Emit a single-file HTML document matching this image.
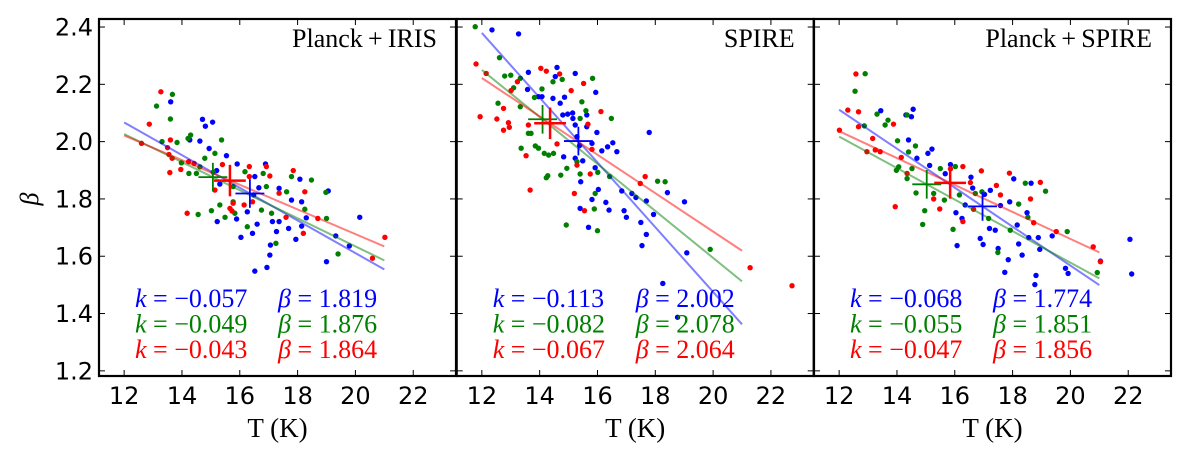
<!DOCTYPE html>
<html><head><meta charset="utf-8">
<style>
html,body{margin:0;padding:0;background:#fff;}
svg{display:block;}
.tick{font-family:"DejaVu Sans","Liberation Sans",sans-serif;font-size:24px;fill:#000;}
.serif{font-family:"Liberation Serif",serif;font-size:26px;}
.xlab{font-family:"Liberation Serif",serif;font-size:27px;}
</style></head>
<body>
<svg id="chart" width="1200" height="455" viewBox="0 0 1200 455" xmlns="http://www.w3.org/2000/svg"></svg>
<script>
const panelTitles = ["Planck\u2009+\u2009IRIS", "SPIRE", "Planck\u2009+\u2009SPIRE"];
const seriesColors = ["#0000ff", "#008000", "#ff0000"];
const seriesNames = ["blue", "green", "red"];
const xTicks = [12, 14, 16, 18, 20, 22];
const yTicks = [1.2, 1.4, 1.6, 1.8, 2.0, 2.2, 2.4];
const slopeK = [[-0.057, -0.049, -0.043], [-0.113, -0.082, -0.067], [-0.068, -0.055, -0.047]];
const meanBeta = [[1.819, 1.876, 1.864], [2.002, 2.078, 2.064], [1.774, 1.851, 1.856]];
const meanT = [[16.35, 15.07, 15.66], [15.34, 14.1, 14.36], [16.96, 15.03, 15.84]];
const fitRange = [12, 21];

const p1Blue = [[13.61,2.139],[14.71,2.078],[14.81,2.054],[15.06,2.068],[14.62,2.002],[14.94,1.976],[14.27,2.006],[15.54,1.951],[15.2,1.899],[15.91,1.922],[15.31,1.852],[15.22,1.721],[15.89,1.73],[16.04,1.666],[16.26,1.755],[16.44,1.68],[16.52,1.878],[16.66,1.839],[16.52,1.548],[16.6,1.712],[16.89,1.922],[16.94,1.561],[17.06,1.639],[17.04,1.604],[17.13,1.721],[17.27,1.686],[17.36,1.837],[17.36,1.721],[17.69,1.697],[17.79,1.796],[17.94,1.659],[18.08,1.869],[18.14,1.79],[18.14,1.705],[18.3,1.734],[19.06,1.828],[19.0,1.581],[19.32,1.671],[19.79,1.636],[20.15,1.736],[16.48,1.814]];
const p1Green = [[13.12,2.124],[13.67,2.165],[13.6,2.079],[13.31,2.0],[13.83,1.997],[14.21,2.011],[14.3,2.023],[13.98,1.926],[14.24,1.889],[14.5,1.889],[14.62,1.912],[14.79,1.942],[15.14,1.959],[15.37,2.006],[15.08,1.893],[14.56,1.746],[15.02,1.759],[15.31,1.779],[15.49,1.736],[15.77,1.79],[15.83,1.75],[16.18,1.895],[16.26,1.703],[16.75,1.761],[16.81,1.889],[16.92,1.843],[17.1,1.75],[17.25,1.645],[17.62,1.825],[17.79,1.878],[18.48,1.866],[18.25,1.764],[18.98,1.823],[19.0,1.732],[19.4,1.608],[15.77,1.843]];
const p1Red = [[13.27,2.174],[12.87,2.061],[12.6,1.994],[13.6,2.006],[13.5,1.979],[13.55,1.955],[13.66,1.942],[13.58,1.892],[13.96,1.903],[14.23,1.93],[14.42,1.924],[14.18,1.75],[15.4,1.92],[15.14,1.831],[15.66,1.767],[15.73,1.758],[16.15,1.779],[16.33,1.913],[16.33,1.878],[16.44,1.79],[16.92,1.913],[17.04,1.88],[17.36,1.82],[17.85,1.899],[17.6,1.736],[18.25,1.825],[18.2,1.68],[18.7,1.732],[20.59,1.593],[21.02,1.666],[15.77,1.785]];
const p2Blue = [[12.35,2.39],[13.27,2.376],[13.61,2.242],[13.58,2.182],[13.96,2.157],[14.08,2.157],[14.46,2.151],[14.6,2.259],[14.54,2.227],[14.86,2.155],[14.71,2.134],[14.8,2.093],[14.97,2.096],[15.23,2.238],[15.14,2.1],[15.15,2.081],[15.23,2.058],[15.29,2.017],[15.38,1.986],[15.63,2.093],[15.63,2.052],[15.94,2.172],[15.98,2.032],[15.81,1.994],[16.15,1.968],[16.35,1.982],[16.53,1.996],[16.67,1.965],[14.83,1.947],[15.23,1.942],[15.49,1.933],[15.42,1.86],[15.92,1.909],[16.03,1.833],[15.81,1.798],[15.4,1.767],[15.69,1.701],[16.29,1.788],[16.4,1.761],[16.84,1.828],[16.92,1.759],[17.0,1.736],[17.19,1.819],[17.33,1.805],[17.5,1.718],[17.54,1.637],[17.69,1.676],[17.69,1.793],[17.79,2.032],[17.94,1.746],[18.42,1.822],[18.26,1.505],[19.01,1.79],[19.09,1.612],[18.77,1.387]];
const p2Green = [[11.77,2.401],[12.61,2.293],[12.56,2.134],[12.79,2.229],[13.0,2.232],[13.1,2.188],[13.33,2.221],[13.33,2.122],[13.36,1.977],[13.61,2.029],[13.7,2.029],[13.82,2.154],[13.85,1.985],[13.96,1.977],[14.08,2.184],[14.16,1.959],[14.31,1.953],[14.48,1.959],[14.23,1.874],[14.28,1.881],[14.46,2.209],[14.78,2.217],[14.73,1.883],[14.92,1.709],[14.94,1.907],[15.29,1.93],[15.4,1.887],[15.46,2.139],[15.4,2.081],[15.6,2.108],[15.83,2.221],[15.89,1.765],[15.92,1.819],[16.0,1.689],[16.01,1.893],[16.48,2.081],[16.42,1.878],[18.08,1.862],[18.34,1.86],[19.9,1.624]];
const p2Red = [[11.8,2.271],[11.94,2.087],[12.15,2.238],[12.52,2.079],[12.75,2.116],[12.75,2.04],[12.92,2.066],[12.95,2.05],[13.01,2.178],[13.23,2.209],[13.53,1.951],[13.61,2.058],[13.67,1.831],[14.04,2.256],[14.23,2.246],[14.69,2.236],[15.09,2.178],[15.52,2.203],[14.6,1.992],[15.29,1.918],[15.2,1.819],[15.55,1.759],[15.67,2.061],[15.75,1.887],[15.81,1.973],[16.12,2.105],[17.48,1.854],[17.65,1.878],[21.28,1.56],[22.73,1.497]];
const p3Blue = [[13.44,2.108],[14.31,2.093],[14.5,2.087],[14.56,2.113],[14.4,2.006],[14.69,1.942],[15.07,1.959],[15.21,1.974],[15.13,1.917],[15.67,1.888],[15.85,1.92],[16.04,1.752],[16.08,1.637],[16.25,1.732],[16.36,1.779],[16.56,1.876],[16.62,1.838],[16.88,1.662],[16.98,1.641],[17.03,1.816],[17.23,1.83],[17.2,1.697],[17.4,1.691],[17.5,1.627],[17.58,1.777],[17.73,1.544],[17.85,1.588],[17.9,1.79],[18.04,1.87],[18.16,1.709],[18.21,1.643],[18.33,1.604],[18.5,1.752],[18.56,1.665],[18.64,1.855],[18.81,1.533],[18.77,1.501],[18.89,1.665],[18.94,1.624],[19.37,1.671],[19.83,1.558],[19.92,1.54],[22.06,1.659],[22.12,1.538],[21.04,1.583]];
const p3Green = [[12.55,2.176],[12.9,2.237],[12.87,2.055],[13.31,2.096],[13.59,2.058],[13.69,2.075],[14.02,2.003],[13.98,1.9],[14.06,1.912],[14.35,2.093],[14.35,1.871],[14.52,1.906],[14.64,1.985],[14.4,1.964],[14.66,1.821],[14.89,1.711],[14.96,1.759],[15.27,1.819],[15.5,1.906],[15.64,1.796],[16.02,1.913],[15.94,1.694],[16.16,1.814],[16.71,1.819],[16.94,1.825],[17.17,1.732],[17.49,1.613],[17.92,1.691],[18.21,1.782],[18.44,1.855],[18.53,1.736],[19.14,1.827],[19.89,1.686],[20.93,1.543]];
const p3Red = [[12.01,2.04],[12.3,2.11],[12.58,2.236],[12.67,2.104],[12.67,2.052],[12.96,1.965],[13.16,2.011],[13.25,1.971],[13.42,1.965],[13.88,2.061],[13.94,1.773],[14.15,1.945],[14.35,1.889],[15.27,1.8],[15.48,1.765],[15.85,1.905],[16.28,1.913],[16.28,1.721],[16.54,1.857],[16.65,1.764],[16.92,1.898],[17.44,1.847],[17.58,1.814],[17.89,1.89],[18.62,1.8],[18.73,1.717],[18.96,1.858],[19.51,1.686],[20.79,1.633],[21.04,1.581]];
const scatter = [[p1Blue,p1Green,p1Red],[p2Blue,p2Green,p2Red],[p3Blue,p3Green,p3Red]];

const NS = "http://www.w3.org/2000/svg";
const svgEl = document.getElementById("chart");
const panelLeft = [99, 456.7, 814], panelW = 357, plotTop = 19, plotBottom = 376;
const xMin = 11.13, xMax = 23.48, yMin = 1.182, yMax = 2.428;
function mk(tag, attrs, parent) {
  const e = document.createElementNS(NS, tag);
  for (const k in attrs) e.setAttribute(k, attrs[k]);
  parent.appendChild(e); return e;
}
function xs(p, T) { return panelLeft[p] + (T - xMin) / (xMax - xMin) * panelW; }
function ys(b) { return plotBottom - (b - yMin) / (yMax - yMin) * (plotBottom - plotTop); }

for (let p = 0; p < 3; p++) {
  const g = mk("g", {}, svgEl);
  
  
  const L = panelLeft[p], R = L + panelW;
  for (let s = 0; s < 3; s++) {
    scatter[p][s].forEach(d => {
      const c = mk("circle", {cx: xs(p, d[0]), cy: ys(d[1]), r: 2.7, fill: seriesColors[s]}, g);
      
      
    });
  }
  for (let s = 0; s < 3; s++) {
    const f = T => meanBeta[p][s] + slopeK[p][s] * (T - meanT[p][s]);
    const ln = mk("line", {x1: xs(p, fitRange[0]), y1: ys(f(fitRange[0])), x2: xs(p, fitRange[1]), y2: ys(f(fitRange[1])), stroke: seriesColors[s], "stroke-opacity": 0.5, "stroke-width": 2}, g);
    
    
  }
  for (let s = 0; s < 3; s++) {
    const cx = xs(p, meanT[p][s]), cy = ys(meanBeta[p][s]);
    const xe = (s === 2 ? 0.55 : 0.5) * panelW / (xMax - xMin), ye = (s === 2 ? 0.055 : 0.05) * (plotBottom - plotTop) / (yMax - yMin);
    const cg = mk("g", {stroke: seriesColors[s], "stroke-width": s === 2 ? 2.5 : 1.8}, g);
    
    
    mk("line", {x1: cx - xe, y1: cy, x2: cx + xe, y2: cy}, cg);
    mk("line", {x1: cx, y1: cy - ye, x2: cx, y2: cy + ye}, cg);
  }
  const fr = mk("rect", {x: L, y: plotTop, width: panelW, height: plotBottom - plotTop, fill: "none", stroke: "#000", "stroke-width": 2.2}, g);
  
  
  xTicks.forEach(t => {
    const x = xs(p, t);
    mk("line", {x1: x, y1: plotBottom, x2: x, y2: plotBottom - 6, stroke: "#000", "stroke-width": 1}, g);
    mk("line", {x1: x, y1: plotTop, x2: x, y2: plotTop + 6, stroke: "#000", "stroke-width": 1}, g);
    const tl = mk("text", {x: x, y: 404, "text-anchor": "middle", class: "tick"}, g);
    tl.textContent = t;
    
    
  });
  yTicks.forEach(t => {
    const y = ys(t);
    mk("line", {x1: L, y1: y, x2: L + 6, y2: y, stroke: "#000", "stroke-width": 1}, g);
    mk("line", {x1: R, y1: y, x2: R - 6, y2: y, stroke: "#000", "stroke-width": 1}, g);
    if (p === 0) {
      const tl = mk("text", {x: 93, y: y + 8.5, "text-anchor": "end", class: "tick"}, g);
      tl.textContent = t.toFixed(1);
      
      
    }
  });
  const tt = mk("text", {x: R - 19, y: 47, "text-anchor": "end", class: "serif"}, g);
  tt.textContent = panelTitles[p];
  
  
  const xl = mk("text", {x: L + panelW / 2, y: 437, "text-anchor": "middle", class: "xlab"}, g);
  xl.textContent = "T (K)";
  
  
  for (let s = 0; s < 3; s++) {
    const yb = 307 + s * 25.5;
    const t1 = mk("text", {x: L + 36, y: yb, class: "serif", fill: seriesColors[s]}, g);
    const k1 = mk("tspan", {"font-style": "italic"}, t1); k1.textContent = "k";
    const k2 = mk("tspan", {}, t1); k2.textContent = " = \u2212" + Math.abs(slopeK[p][s]).toFixed(3);
    
    
    const t2 = mk("text", {x: L + 179, y: yb, class: "serif", fill: seriesColors[s]}, g);
    const b1 = mk("tspan", {"font-style": "italic"}, t2); b1.textContent = "\u03B2";
    const b2 = mk("tspan", {}, t2); b2.textContent = " = " + meanBeta[p][s].toFixed(3);
    
    
  }
}
const yl = mk("text", {x: 0, y: 0, transform: "translate(38,199) rotate(-90)", "text-anchor": "middle", class: "serif", "font-style": "italic"}, svgEl);
yl.textContent = "\u03B2";


</script>
</body></html>
